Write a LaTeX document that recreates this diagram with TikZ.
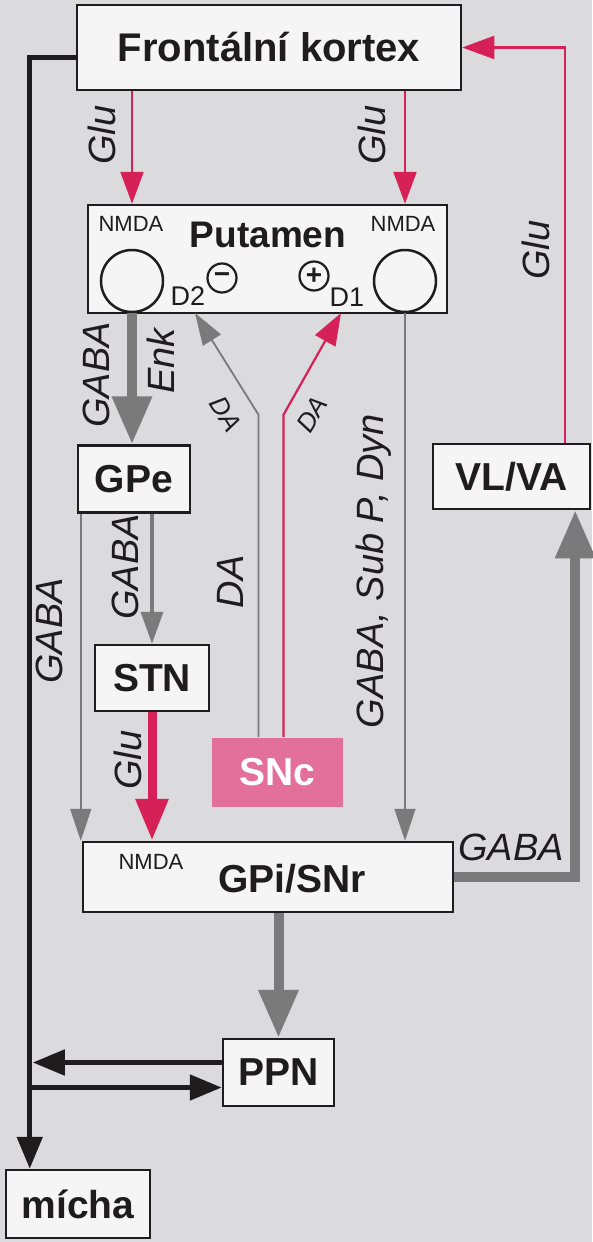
\documentclass[tikz,border=0pt]{standalone}
\usepackage{fontspec}
\setmainfont{Liberation Sans}
\usetikzlibrary{arrows.meta}

\definecolor{paper}{RGB}{219,219,221}
\definecolor{boxfill}{RGB}{245,245,245}
\definecolor{glured}{RGB}{214,32,88}
\definecolor{sncpink}{RGB}{226,112,152}
\definecolor{gabagray}{RGB}{122,122,122}
\definecolor{ink}{RGB}{30,28,28}

\begin{document}
\begin{tikzpicture}[
  x=1pt, y=-1pt,
  box/.style={draw=ink, line width=2.5pt, fill=boxfill, inner sep=0pt, text=ink, font=\bfseries\fontsize{39}{39}\selectfont},
  cell/.style={draw=ink, circle, line width=2.5pt, minimum size=62pt, inner sep=0pt},
  sign/.style={draw=ink, circle, line width=2.2pt, minimum size=29pt, inner sep=0pt, text=ink, font=\bfseries\fontsize{28}{28}\selectfont},
  nmda/.style={inner sep=0pt, text=ink, font=\fontsize{22}{22}\selectfont},
  recep/.style={inner sep=0pt, text=ink, font=\fontsize{27}{27}\selectfont},
  ntlabel/.style={inner sep=0pt, text=ink, font=\itshape\fontsize{38}{38}\selectfont},
  glu/.style={draw=glured, line width=2.2pt, -{Triangle[length=32pt,width=23pt]}},
  gluthick/.style={draw=glured, line width=9pt, -{Triangle[length=42pt,width=31pt]}},
  gabathin/.style={draw=gabagray, line width=1.8pt, -{Triangle[length=32pt,width=21pt]}},
  gabamid/.style={draw=gabagray, line width=3.5pt, -{Triangle[length=32pt,width=22pt]}},
  gabathick/.style={draw=gabagray, line width=10pt, -{Triangle[length=48pt,width=38pt]}},
  motor/.style={draw=ink, line width=5pt, -{Triangle[length=32pt,width=25pt]}}
]
\useasboundingbox (0,0) rectangle (592,1242);
\fill[paper] (0,0) rectangle (592,1242);

% nuclei
\node[box, minimum width=384pt, minimum height=85pt] (kortex) at (269,47.5) {\fontsize{40}{40}\selectfont Frontální kortex};
\node[box, minimum width=359pt, minimum height=108pt] (putamen) at (267.5,259) {};
\node[inner sep=0pt, text=ink, font=\bfseries\fontsize{37}{37}\selectfont] (putname) at (268,235) {Putamen};
\node[cell] (d2cell) at (132,281) {};
\node[cell] (d1cell) at (405,281) {};
\node[nmda] (nmdaleft) at (131,224) {NMDA};
\node[nmda] (nmdaright) at (403,224) {NMDA};
\node[sign] (inhib) at (222,278) {−};
\node[sign] (excit) at (314,276) {+};
\node[recep] (d2) at (188,296) {D2};
\node[recep] (d1) at (347,297) {D1};
\coordinate (d2site) at (195,313);
\coordinate (d1site) at (341,313);

\node[box, minimum width=112pt, minimum height=67pt] (gpe) at (134,479) {GPe};
\node[box, minimum width=114pt, minimum height=66pt] (stn) at (152,678) {STN};
\node[box, draw=none, fill=sncpink, text=white, minimum width=131pt, minimum height=69pt] (snc) at (277.5,772.5) {SNc};
\node[box, minimum width=370pt, minimum height=70pt] (gpi) at (268,877) {};
\node[inner sep=0pt, text=ink, font=\bfseries\fontsize{39}{39}\selectfont] (gpiname) at (292,879) {GPi/SNr};
\node[nmda] (nmdagpi) at (151,862) {NMDA};
\node[box, minimum width=157pt, minimum height=65pt] (vlva) at (511.5,476.5) {VL/VA};
\node[box, minimum width=111pt, minimum height=67pt] (ppn) at (278.5,1072.5) {PPN};
\node[box, minimum width=144pt, minimum height=68pt] (micha) at (78,1204) {mícha};

% connections
\draw[glu] (kortex.south -| d2cell) -- (putamen.north -| d2cell);
\draw[glu] (kortex.south -| d1cell) -- (putamen.north -| d1cell);
\draw[glu] ([xshift=-26pt]vlva.north east) |- (kortex.east);
\draw[gabathick] (d2cell.south) -- (gpe.north -| d2cell);
\draw[gabamid] (gpe.south -| stn) -- (stn.north);
\coordinate (gpetap) at ([xshift=4pt]gpe.south west);
\draw[gabathin] (gpetap) -- (gpetap |- gpi.north);
\draw[gluthick] (stn.south) -- (stn.south |- gpi.north);
\draw[gabathin] (d1cell.south) -- (d1cell |- gpi.north);
\draw[gabathin] ([xshift=-19pt]snc.north) -- ++(0,-322) -- (d2site);
\draw[glu] ([xshift=6pt]snc.north) -- ++(0,-322) -- (d1site);
\draw[gabathick] (gpi.east) -| ([xshift=-16pt]vlva.south east);
\draw[gabathick] (gpi.south -| ppn) -- (ppn.north);
\coordinate (spine) at ([xshift=25pt]micha.north west);
\draw[motor] ([yshift=-10pt]kortex.west) -| (spine);
\coordinate (ppnout) at ([yshift=10pt]ppn.west);
\coordinate (ppnin) at ([yshift=-15pt]ppn.west);
\draw[motor, shorten >=3pt] (ppnout) -- (ppnout -| spine);
\draw[motor] (ppnin -| spine) -- (ppnin);

% transmitters
\node[ntlabel, rotate=90] (glukl) at (102,135) {Glu};
\node[ntlabel, rotate=90] (glukr) at (372,135) {Glu};
\node[ntlabel, rotate=90] (gluth) at (536,250) {Glu};
\node[ntlabel, rotate=90] (gabape) at (96,375) {GABA};
\node[ntlabel, rotate=90] (enk) at (161,361) {Enk};
\node[ntlabel, rotate=90] (gabastn) at (125,567) {GABA};
\node[ntlabel, rotate=90] (gabapi) at (49,631) {GABA};
\node[ntlabel, rotate=90] (glustn) at (128,760) {Glu};
\node[ntlabel, rotate=90] (dasnc) at (230,582) {DA};
\node[ntlabel, rotate=90] (gabadirect) at (374,571) {GABA, Sub P, Dyn};
\node[ntlabel] (gabath) at (511,847) {GABA};
\node[ntlabel, font=\itshape\fontsize{26}{26}\selectfont, rotate=-58] (dad2) at (226,414) {DA};
\node[ntlabel, font=\itshape\fontsize{26}{26}\selectfont, rotate=58] (dad1) at (312,414) {DA};
\end{tikzpicture}
\end{document}
